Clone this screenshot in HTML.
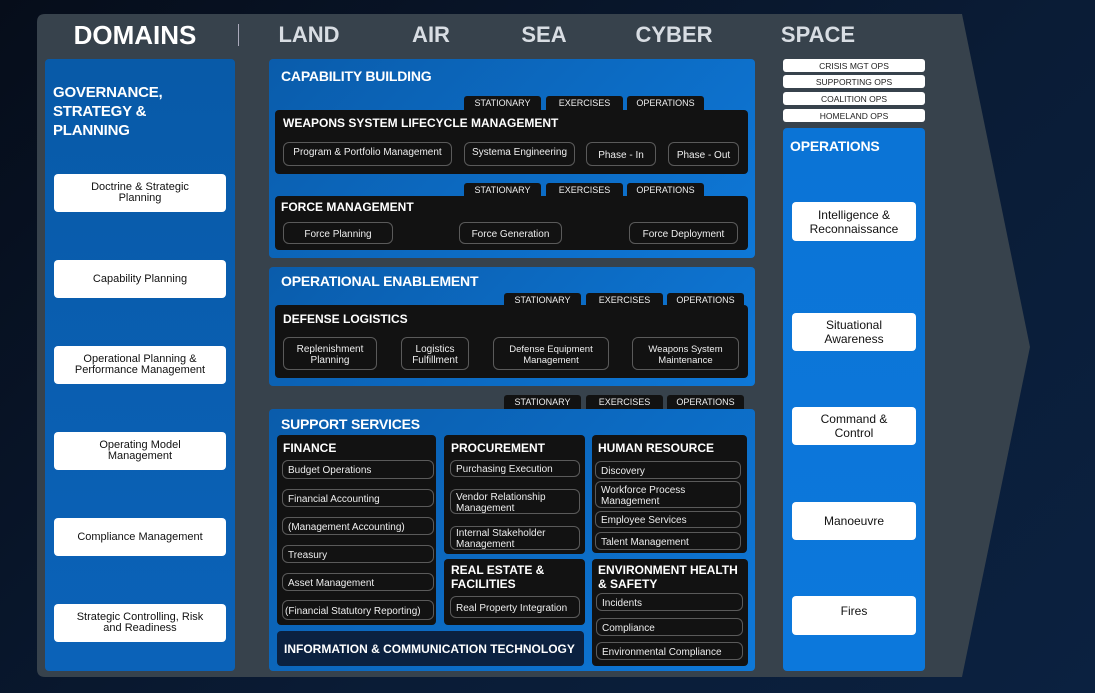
<!DOCTYPE html>
<html><head><meta charset="utf-8"><style>
*{box-sizing:border-box;margin:0;padding:0}
body{width:1095px;height:693px;overflow:hidden;background:linear-gradient(135deg,#060d1a 0%,#0a1c36 60%,#0b2140 100%);font-family:"Liberation Sans",sans-serif;position:relative}
.a{position:absolute}
.blue{background:linear-gradient(135deg,#0a5cab,#0e78d8);border-radius:4px}
.dk{background:#121212;border-radius:4px}
.pl{position:absolute;border:1px solid #5a5a5a;border-radius:6px;color:#eee;font-size:10px;display:flex;align-items:center;justify-content:center;text-align:center;line-height:11px;padding-top:2px}
.pl.l{justify-content:flex-start;padding-left:5px;text-align:left}
.tab{position:absolute;background:#121212;color:#eee;font-size:9px;height:14px;width:77px;border-radius:3px 3px 0 0;display:flex;align-items:center;justify-content:center}
.h{position:absolute;color:#fff;font-weight:bold;font-size:12px;line-height:14px}
.hb{position:absolute;color:#fff;font-weight:900;font-size:14px;letter-spacing:-0.2px}
.wb{position:absolute;background:#fff;border-radius:4px;color:#111;font-size:11px;display:flex;align-items:center;justify-content:center;text-align:center;line-height:11px}
.dom{position:absolute;top:22px;color:#d8dde3;font-size:22px;transform:translateX(-50%)}
.tag{position:absolute;left:783px;width:142px;height:13px;background:#fff;border-radius:3px;font-size:8.5px;color:#222;display:flex;align-items:center;justify-content:center}
</style></head><body>
<svg class="a" style="left:0;top:0" width="1095" height="693"><path d="M45 14 L962 14 L1030 347 L962 677 L45 677 Q37 677 37 669 L37 22 Q37 14 45 14Z" fill="#37424c"/></svg>

<div class="dom" style="left:135px;font-size:26px;color:#fff;top:20px;font-weight:bold">DOMAINS</div>
<div class="a" style="left:238px;top:24px;width:1px;height:22px;background:#aab"></div>
<div class="dom" style="left:309px;font-weight:bold">LAND</div>
<div class="dom" style="left:431px;font-weight:bold">AIR</div>
<div class="dom" style="left:544px;font-weight:bold">SEA</div>
<div class="dom" style="left:674px;font-weight:bold">CYBER</div>
<div class="dom" style="left:818px;font-weight:bold">SPACE</div>

<!-- Left column -->
<div class="a blue" style="left:45px;top:59px;width:190px;height:612px;background:linear-gradient(180deg,#085aa8,#0b62b8)"></div>
<div class="hb" style="left:53px;top:83px;font-size:15px;line-height:19px">GOVERNANCE,<br>STRATEGY &amp;<br>PLANNING</div>
<div class="wb" style="left:54px;top:174px;width:172px;height:38px">Doctrine &amp; Strategic<br>Planning</div>
<div class="wb" style="left:54px;top:260px;width:172px;height:38px">Capability Planning</div>
<div class="wb" style="left:54px;top:346px;width:172px;height:38px">Operational Planning &amp;<br>Performance Management</div>
<div class="wb" style="left:54px;top:432px;width:172px;height:38px">Operating Model<br>Management</div>
<div class="wb" style="left:54px;top:518px;width:172px;height:38px">Compliance Management</div>
<div class="wb" style="left:54px;top:604px;width:172px;height:38px">Strategic Controlling, Risk<br>and Readiness</div>

<!-- Capability building -->
<div class="a blue" style="left:269px;top:59px;width:486px;height:199px"></div>
<div class="hb" style="left:281px;top:68px">CAPABILITY BUILDING</div>
<div class="tab" style="left:464px;top:96px">STATIONARY</div>
<div class="tab" style="left:546px;top:96px">EXERCISES</div>
<div class="tab" style="left:627px;top:96px">OPERATIONS</div>
<div class="a dk" style="left:275px;top:110px;width:473px;height:64px"></div>
<div class="h" style="left:283px;top:116px">WEAPONS SYSTEM LIFECYCLE MANAGEMENT</div>
<div class="pl" style="left:283px;top:142px;width:169px;height:24px;align-items:flex-start;padding-top:4px">Program &amp; Portfolio Management</div>
<div class="pl" style="left:464px;top:142px;width:111px;height:24px;align-items:flex-start;padding-top:4px">Systema Engineering</div>
<div class="pl" style="left:586px;top:142px;width:70px;height:24px">Phase - In</div>
<div class="pl" style="left:668px;top:142px;width:71px;height:24px">Phase - Out</div>
<div class="tab" style="left:464px;top:183px">STATIONARY</div>
<div class="tab" style="left:546px;top:183px">EXERCISES</div>
<div class="tab" style="left:627px;top:183px">OPERATIONS</div>
<div class="a dk" style="left:275px;top:196px;width:473px;height:54px"></div>
<div class="h" style="left:281px;top:200px">FORCE MANAGEMENT</div>
<div class="pl" style="left:283px;top:222px;width:110px;height:22px">Force Planning</div>
<div class="pl" style="left:459px;top:222px;width:103px;height:22px">Force Generation</div>
<div class="pl" style="left:629px;top:222px;width:109px;height:22px">Force Deployment</div>

<!-- Operational enablement -->
<div class="a blue" style="left:269px;top:267px;width:486px;height:119px"></div>
<div class="hb" style="left:281px;top:273px">OPERATIONAL ENABLEMENT</div>
<div class="tab" style="left:504px;top:293px">STATIONARY</div>
<div class="tab" style="left:586px;top:293px">EXERCISES</div>
<div class="tab" style="left:667px;top:293px">OPERATIONS</div>
<div class="a dk" style="left:275px;top:305px;width:473px;height:73px"></div>
<div class="h" style="left:283px;top:312px">DEFENSE LOGISTICS</div>
<div class="pl" style="left:283px;top:337px;width:94px;height:33px">Replenishment<br>Planning</div>
<div class="pl" style="left:401px;top:337px;width:68px;height:33px">Logistics<br>Fulfillment</div>
<div class="pl" style="left:493px;top:337px;width:116px;height:33px;font-size:9.5px">Defense Equipment<br>Management</div>
<div class="pl" style="left:632px;top:337px;width:107px;height:33px;font-size:9.5px">Weapons System<br>Maintenance</div>

<!-- Support services -->
<div class="tab" style="left:504px;top:395px">STATIONARY</div>
<div class="tab" style="left:586px;top:395px">EXERCISES</div>
<div class="tab" style="left:667px;top:395px">OPERATIONS</div>
<div class="a blue" style="left:269px;top:409px;width:486px;height:262px"></div>
<div class="hb" style="left:281px;top:416px">SUPPORT SERVICES</div>

<div class="a dk" style="left:277px;top:435px;width:159px;height:190px"></div>
<div class="h" style="left:283px;top:441px">FINANCE</div>
<div class="pl l" style="left:282px;top:460px;width:152px;height:19px">Budget Operations</div>
<div class="pl l" style="left:282px;top:489px;width:152px;height:18px">Financial Accounting</div>
<div class="pl l" style="left:282px;top:517px;width:152px;height:18px">(Management Accounting)</div>
<div class="pl l" style="left:282px;top:545px;width:152px;height:18px">Treasury</div>
<div class="pl l" style="left:282px;top:573px;width:152px;height:18px">Asset Management</div>
<div class="pl l" style="left:282px;top:600px;width:152px;height:20px;padding-left:2px">(Financial Statutory Reporting)</div>

<div class="a dk" style="left:444px;top:435px;width:141px;height:119px"></div>
<div class="h" style="left:451px;top:441px">PROCUREMENT</div>
<div class="pl l" style="left:450px;top:460px;width:130px;height:17px">Purchasing Execution</div>
<div class="pl l" style="left:450px;top:489px;width:130px;height:25px">Vendor Relationship<br>Management</div>
<div class="pl l" style="left:450px;top:526px;width:130px;height:24px">Internal Stakeholder<br>Management</div>

<div class="a dk" style="left:444px;top:559px;width:141px;height:66px"></div>
<div class="h" style="left:451px;top:563px">REAL ESTATE &amp;<br>FACILITIES</div>
<div class="pl l" style="left:450px;top:596px;width:130px;height:22px">Real Property Integration</div>

<div class="a dk" style="left:592px;top:435px;width:155px;height:118px"></div>
<div class="h" style="left:598px;top:441px">HUMAN RESOURCE</div>
<div class="pl l" style="left:595px;top:461px;width:146px;height:18px">Discovery</div>
<div class="pl l" style="left:595px;top:481px;width:146px;height:27px">Workforce Process<br>Management</div>
<div class="pl l" style="left:595px;top:511px;width:146px;height:17px">Employee Services</div>
<div class="pl l" style="left:595px;top:532px;width:146px;height:18px">Talent Management</div>

<div class="a dk" style="left:592px;top:559px;width:156px;height:107px"></div>
<div class="h" style="left:598px;top:563px">ENVIRONMENT HEALTH<br>&amp; SAFETY</div>
<div class="pl l" style="left:596px;top:593px;width:147px;height:18px">Incidents</div>
<div class="pl l" style="left:596px;top:618px;width:147px;height:18px">Compliance</div>
<div class="pl l" style="left:596px;top:642px;width:147px;height:18px">Environmental Compliance</div>

<div class="a" style="left:277px;top:631px;width:307px;height:35px;background:#0b2140;border-radius:4px"></div>
<div class="h" style="left:284px;top:642px">INFORMATION &amp; COMMUNICATION TECHNOLOGY</div>

<!-- Right column -->
<div class="tag" style="top:59px">CRISIS MGT OPS</div>
<div class="tag" style="top:75px">SUPPORTING OPS</div>
<div class="tag" style="top:92px">COALITION OPS</div>
<div class="tag" style="top:109px">HOMELAND OPS</div>
<div class="a blue" style="left:783px;top:128px;width:142px;height:543px;background:linear-gradient(180deg,#0b74d6,#0c78dc)"></div>
<div class="hb" style="left:790px;top:138px">OPERATIONS</div>
<div class="wb" style="left:792px;top:202px;width:124px;height:39px;font-size:12px;line-height:14px">Intelligence &amp;<br>Reconnaissance</div>
<div class="wb" style="left:792px;top:313px;width:124px;height:38px;font-size:12px;line-height:14px">Situational<br>Awareness</div>
<div class="wb" style="left:792px;top:407px;width:124px;height:38px;font-size:12px;line-height:14px">Command &amp;<br>Control</div>
<div class="wb" style="left:792px;top:502px;width:124px;height:38px;font-size:12px">Manoeuvre</div>
<div class="wb" style="left:792px;top:596px;width:124px;height:39px;font-size:12px;align-items:flex-start;padding-top:10px">Fires</div>
</body></html>
